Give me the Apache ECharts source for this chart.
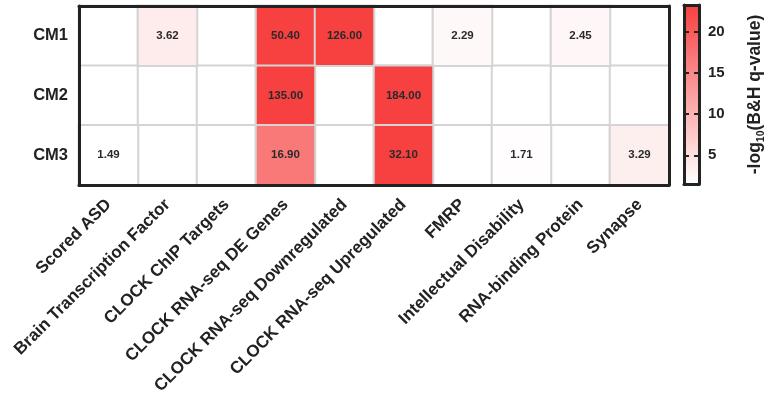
<!DOCTYPE html>
<html><head><meta charset="utf-8">
<script src="https://cdn.jsdelivr.net/npm/echarts@6/dist/echarts.min.js"></script>
<style>html,body{margin:0;padding:0;background:#fff}#c{width:768px;height:398px}</style>
</head><body><div id="c"></div>
<script>
const categories = ['Scored ASD', 'Brain Transcription Factor', 'CLOCK ChIP Targets', 'CLOCK RNA-seq DE Genes',
  'CLOCK RNA-seq Downregulated', 'CLOCK RNA-seq Upregulated', 'FMRP', 'Intellectual Disability',
  'RNA-binding Protein', 'Synapse'];
const modules = ['CM1', 'CM2', 'CM3'];
const cm1 = [null, 3.62, null, 50.40, 126.00, null, 2.29, null, 2.45, null];
const cm2 = [null, null, null, 135.00, null, 184.00, null, null, null, null];
const cm3 = [1.49, null, null, 16.90, null, 32.10, null, 1.71, null, 3.29];
const scaleMin = 1.5;
const scaleMax = 23.3;
const colorbarTicks = [5, 10, 15, 20];

const rows = [cm1, cm2, cm3];
const cells = [];
const bgCells = [];
rows.forEach((r, j) => r.forEach((v, i) => {
  bgCells.push([i, j, 0]);
  if (v !== null) cells.push([i, j, v]);
}));

const RED = '#f74040';
const INK = '#222';
const GRAYLINE = '#d4d4d4';
const FRAME = { show: true, lineStyle: { color: INK, width: 3 } };
const FONT = 'Liberation Sans, Arial, sans-serif';

const chart = echarts.init(document.getElementById('c'), null, { renderer: 'canvas' });
chart.setOption({
  animation: false,
  backgroundColor: '#fff',
  textStyle: { fontFamily: FONT },
  grid: [
    { left: 79, top: 6, width: 590, height: 179 },
    { left: 684, top: 5, width: 28, height: 179 }
  ],
  visualMap: {
    show: false, type: 'continuous', seriesIndex: 1,
    min: scaleMin, max: scaleMax, inRange: { color: ['#ffffff', RED] }
  },
  xAxis: [
    { type: 'category', gridIndex: 0, data: categories, position: 'bottom', z: 10,
      axisLine: FRAME, axisTick: { show: false }, splitLine: { show: false },
      axisLabel: { interval: 0, rotate: 45, margin: 17, fontSize: 17, fontWeight: 'bold', color: INK, fontFamily: FONT } },
    { type: 'category', gridIndex: 0, data: categories, position: 'top', z: 10,
      axisLine: FRAME, axisTick: { show: false }, axisLabel: { show: false }, splitLine: { show: false } },
    { type: 'category', gridIndex: 1, data: [''], position: 'bottom', z: 10,
      axisLine: FRAME, axisTick: { show: false }, axisLabel: { show: false } },
    { type: 'category', gridIndex: 1, data: [''], position: 'top', z: 10,
      axisLine: FRAME, axisTick: { show: false }, axisLabel: { show: false } }
  ],
  yAxis: [
    { type: 'category', gridIndex: 0, data: modules, inverse: true, position: 'left', z: 10,
      axisLine: FRAME, axisTick: { show: false }, splitLine: { show: false },
      axisLabel: { margin: 11, fontSize: 16.5, fontWeight: 'bold', color: INK, fontFamily: FONT } },
    { type: 'category', gridIndex: 0, data: modules, inverse: true, position: 'right', z: 10,
      axisLine: FRAME, axisTick: { show: false }, axisLabel: { show: false }, splitLine: { show: false } },
    { type: 'value', gridIndex: 1, min: scaleMin, max: scaleMax, position: 'left', z: 10,
      axisLine: FRAME, splitLine: { show: false },
      axisTick: { show: true, inside: true, length: 5, customValues: colorbarTicks, lineStyle: { color: INK, width: 2 } },
      axisLabel: { show: false } },
    { type: 'value', gridIndex: 1, min: scaleMin, max: scaleMax, position: 'right', z: 10,
      axisLine: FRAME, splitLine: { show: false },
      axisTick: { show: true, inside: true, length: 5, customValues: colorbarTicks, lineStyle: { color: INK, width: 2 } },
      axisLabel: { show: true, customValues: colorbarTicks, margin: 9, fontSize: 15, fontWeight: 'bold', color: INK, fontFamily: FONT },
      name: '-log{s|10}(B&H q-value)', nameLocation: 'middle', nameRotate: 90, nameGap: 44,
      nameTextStyle: { fontSize: 17.5, fontWeight: 'bold', color: INK, fontFamily: FONT,
        rich: { s: { fontSize: 10.5, fontWeight: 'bold', color: INK, fontFamily: FONT, verticalAlign: 'bottom', lineHeight: 24 } } } }
  ],
  series: [
    { type: 'heatmap', xAxisIndex: 0, yAxisIndex: 0, data: bgCells, z: 1, silent: true,
      itemStyle: { color: '#ffffff', borderColor: GRAYLINE, borderWidth: 2 }, label: { show: false } },
    { type: 'heatmap', xAxisIndex: 0, yAxisIndex: 0, data: cells, z: 2,
      itemStyle: { borderColor: GRAYLINE, borderWidth: 2 },
      label: { show: true, fontSize: 11.5, fontWeight: 'bold', color: '#2a2a2a', fontFamily: FONT,
        formatter: p => p.value[2].toFixed(2) } },
    { type: 'bar', xAxisIndex: 2, yAxisIndex: 2, stack: 'cb', barWidth: '100%', data: [scaleMin],
      itemStyle: { color: 'rgba(0,0,0,0)' }, silent: true },
    { type: 'bar', xAxisIndex: 2, yAxisIndex: 2, stack: 'cb', barWidth: '100%', data: [scaleMax - scaleMin],
      itemStyle: { color: new echarts.graphic.LinearGradient(0, 1, 0, 0, [{ offset: 0, color: '#ffffff' }, { offset: 1, color: RED }]) },
      silent: true }
  ]
});
</script></body></html>
